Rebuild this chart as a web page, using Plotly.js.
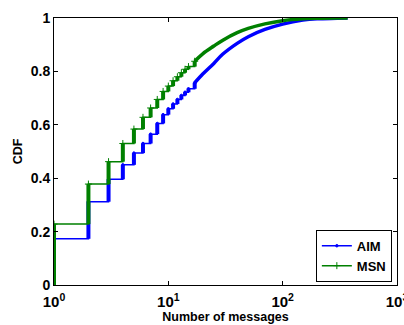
<!DOCTYPE html>
<html>
<head>
<meta charset="utf-8">
<script src="https://cdn.plot.ly/plotly-3.0.1.min.js"></script>
<style>html,body{margin:0;padding:0;background:#fff;}#chart{width:404px;height:325px;}</style>
</head>
<body>
<div id="chart"></div>
<script>
// Number of messages (x) and CDF values
const messages = [1, 2, 3, 4, 5, 6, 7, 8, 9, 10, 11, 12, 13, 14, 15, 17, 20, 25, 30, 40, 50, 70, 100, 150, 200, 300, 370];
const aimCdf   = [0.173, 0.312, 0.396, 0.450, 0.494, 0.530, 0.565, 0.605, 0.638, 0.660, 0.678, 0.695, 0.710, 0.722, 0.735, 0.757, 0.790, 0.830, 0.865, 0.905, 0.930, 0.957, 0.977, 0.992, 0.997, 0.999, 1.000];
const msnCdf   = [0.228, 0.378, 0.462, 0.530, 0.584, 0.628, 0.663, 0.695, 0.725, 0.745, 0.765, 0.780, 0.795, 0.808, 0.818, 0.838, 0.866, 0.895, 0.917, 0.945, 0.961, 0.978, 0.990, 0.997, 0.999, 1.000, 1.000];
const seriesNames = ['AIM', 'MSN'];
const xTickVals = [1, 10, 100, 1000];
const xTickText = ['10<sup>0</sup>', '10<sup>1</sup>', '10<sup>2</sup>', '10<sup>3</sup>'];
const yTickVals = [0, 0.2, 0.4, 0.6, 0.8, 1];
const yTickText = ['0', '0.2', '0.4', '0.6', '0.8', '1'];

const FONT = 'Liberation Sans, Arial, sans-serif';
const stepLimit = 17; // steps drawn individually up to this count

function buildTraces(cdf, color, name, symbol, msize) {
  const k = messages.findIndex(v => v >= stepLimit);
  const xs = messages.slice(0, k + 1), ys = cdf.slice(0, k + 1);
  const rx = [], ry = [];
  let prev = 0;
  for (let i = 0; i <= k; i++) {
    rx.push(messages[i], messages[i], null);
    ry.push(prev, cdf[i], null);
    prev = cdf[i];
  }
  return [
    {x: rx, y: ry, mode: 'lines', line: {color: color, width: 4}, showlegend: false, hoverinfo: 'skip'},
    {x: messages.slice(k), y: cdf.slice(k), mode: 'lines', line: {color: color, width: 3.5, shape: 'spline'}, showlegend: false, hoverinfo: 'skip'},
    {x: xs, y: ys, name: name, mode: 'lines+markers', line: {color: color, width: 1.5, shape: 'hv'},
     marker: {color: color, symbol: symbol, size: msize, line: {color: color, width: 1}}}
  ];
}

const data = [
  ...buildTraces(aimCdf, '#0000ff', seriesNames[0], 'circle', 2.5),
  ...buildTraces(msnCdf, '#008000', seriesNames[1], 'cross-thin', 5)
];

const layout = {
  width: 404, height: 325,
  margin: {l: 54, r: 7, t: 18, b: 40},
  paper_bgcolor: '#fff', plot_bgcolor: '#fff',
  font: {family: FONT, size: 13, color: '#000'},
  showlegend: true,
  xaxis: {
    type: 'log', range: [0, 3],
    tickvals: xTickVals, ticktext: xTickText,
    ticks: 'inside', ticklen: 4, tickcolor: '#000',
    showline: true, linecolor: '#000', linewidth: 1, mirror: 'ticks',
    showgrid: false, zeroline: false,
    ticklabeloverflow: 'allow', ticklabelstandoff: 3,
    tickfont: {family: FONT, size: 15, color: '#000', weight: 'bold'},
    title: {text: 'Number of messages', font: {family: FONT, size: 12.5, weight: 'bold'}, standoff: 1}
  },
  yaxis: {
    range: [0, 1],
    tickvals: yTickVals, ticktext: yTickText,
    ticks: 'inside', ticklen: 4, tickcolor: '#000',
    showline: true, linecolor: '#000', linewidth: 1, mirror: 'ticks',
    showgrid: false, zeroline: false,
    tickfont: {family: FONT, size: 14, color: '#000', weight: 'bold'},
    title: {text: 'CDF', font: {family: FONT, size: 12.5, weight: 'bold'}, standoff: 5}
  },
  legend: {
    x: 0.985, y: 0.012, xanchor: 'right', yanchor: 'bottom',
    bgcolor: '#fff', bordercolor: '#000', borderwidth: 1,
    font: {family: FONT, size: 13, weight: 'bold'},
    itemwidth: 30, tracegroupgap: 0
  }
};

Plotly.newPlot('chart', data, layout, {staticPlot: true, displayModeBar: false});
</script>
</body>
</html>
